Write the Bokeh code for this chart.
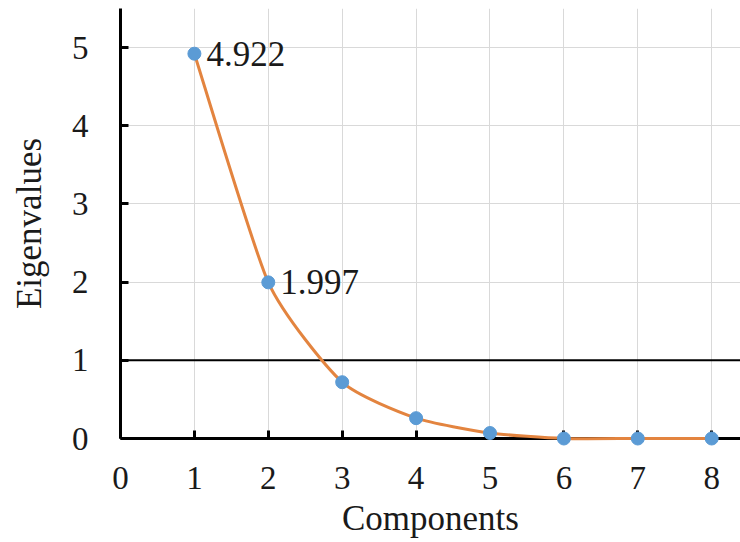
import numpy as np
from bokeh.plotting import figure
from bokeh.models import Span, Range1d, ColumnDataSource
from bokeh.core.properties import value
from bokeh.embed import file_html
from bokeh.resources import INLINE

# ---- data ----
components = [1, 2, 3, 4, 5, 6, 7, 8]
eigenvalues = [4.922, 1.997, 0.72, 0.26, 0.07, 0.0, 0.0, 0.0]
labeled_idx = [0, 1]
x_ticks = [0, 1, 2, 3, 4, 5, 6, 7, 8]
y_ticks = [0, 1, 2, 3, 4, 5]
threshold = 1.0
x_title = "Components"
y_title = "Eigenvalues"

FONT = "Liberation Serif"
TXT = "#1a1a1a"
ORANGE = "#E3843F"
BLUE = "#5B9BD5"
SMOOTH = 0.1

p = figure(width=740, height=542, x_range=Range1d(0, 8.39), y_range=Range1d(0, 5.5),
           output_backend="svg", toolbar_location=None,
           min_border_left=120, min_border_right=0, min_border_top=8, min_border_bottom=104)
p.outline_line_color = None
p.background_fill_color = "white"
p.border_fill_color = "white"

for ax in (p.xaxis[0], p.yaxis[0]):
    ax.axis_line_width = 3
    ax.axis_line_color = "black"
    ax.major_tick_line_width = 3
    ax.major_tick_line_color = "black"
    ax.major_tick_in = 8
    ax.major_tick_out = 0
    ax.minor_tick_line_color = None
    ax.major_label_text_font = FONT
    ax.major_label_text_font_size = "33px"
    ax.major_label_text_color = TXT
    ax.axis_label_text_font = FONT
    ax.axis_label_text_font_size = "35px"
    ax.axis_label_text_font_style = "normal"
    ax.axis_label_text_color = TXT

p.xaxis.ticker = x_ticks
p.yaxis.ticker = y_ticks
p.xaxis.axis_label = x_title
p.yaxis.axis_label = y_title
p.xaxis.major_label_standoff = 28
p.xaxis.axis_label_standoff = 7
p.yaxis.major_label_standoff = 32
p.yaxis.axis_label_standoff = 20

p.xgrid.ticker = x_ticks
p.ygrid.ticker = y_ticks
p.xgrid.grid_line_color = "#d9d9d9"
p.ygrid.grid_line_color = "#d9d9d9"
p.xgrid.grid_line_width = 1
p.ygrid.grid_line_width = 1

span = Span(location=threshold, dimension="width", line_color="black", line_width=2, level="underlay")
p.add_layout(span)

# lightly smoothed curve (cardinal spline -> Bezier) through the data points
xs = np.array(components, dtype=float)
ys = np.array(eigenvalues, dtype=float)
n = len(xs)
x0, y0, x1, y1, cx0, cy0, cx1, cy1 = ([] for _ in range(8))
for i in range(n - 1):
    pm = (xs[max(i - 1, 0)], ys[max(i - 1, 0)])
    pa = (xs[i], ys[i])
    pb = (xs[i + 1], ys[i + 1])
    pn = (xs[min(i + 2, n - 1)], ys[min(i + 2, n - 1)])
    x0.append(pa[0]); y0.append(pa[1]); x1.append(pb[0]); y1.append(pb[1])
    cx0.append(pa[0] + (pb[0] - pm[0]) * SMOOTH); cy0.append(pa[1] + (pb[1] - pm[1]) * SMOOTH)
    cx1.append(pb[0] - (pn[0] - pa[0]) * SMOOTH); cy1.append(pb[1] - (pn[1] - pa[1]) * SMOOTH)
bz = ColumnDataSource(dict(x0=x0, y0=y0, x1=x1, y1=y1, cx0=cx0, cy0=cy0, cx1=cx1, cy1=cy1))
p.bezier(x0="x0", y0="y0", x1="x1", y1="y1", cx0="cx0", cy0="cy0", cx1="cx1", cy1="cy1",
         source=bz, line_color=ORANGE, line_width=3, level="overlay")

p.scatter(components, eigenvalues, size=13, fill_color=BLUE, line_color=BLUE, level="overlay")

lab = ColumnDataSource(dict(x=[components[i] for i in labeled_idx],
                            y=[eigenvalues[i] for i in labeled_idx],
                            t=[f"{eigenvalues[i]:.3f}" for i in labeled_idx]))
p.text(x="x", y="y", text="t", source=lab, x_offset=12, text_baseline="middle",
       text_font=value(FONT), text_font_size="35px", text_color=TXT, level="overlay")

open("out.html", "w").write(file_html(p, INLINE))
